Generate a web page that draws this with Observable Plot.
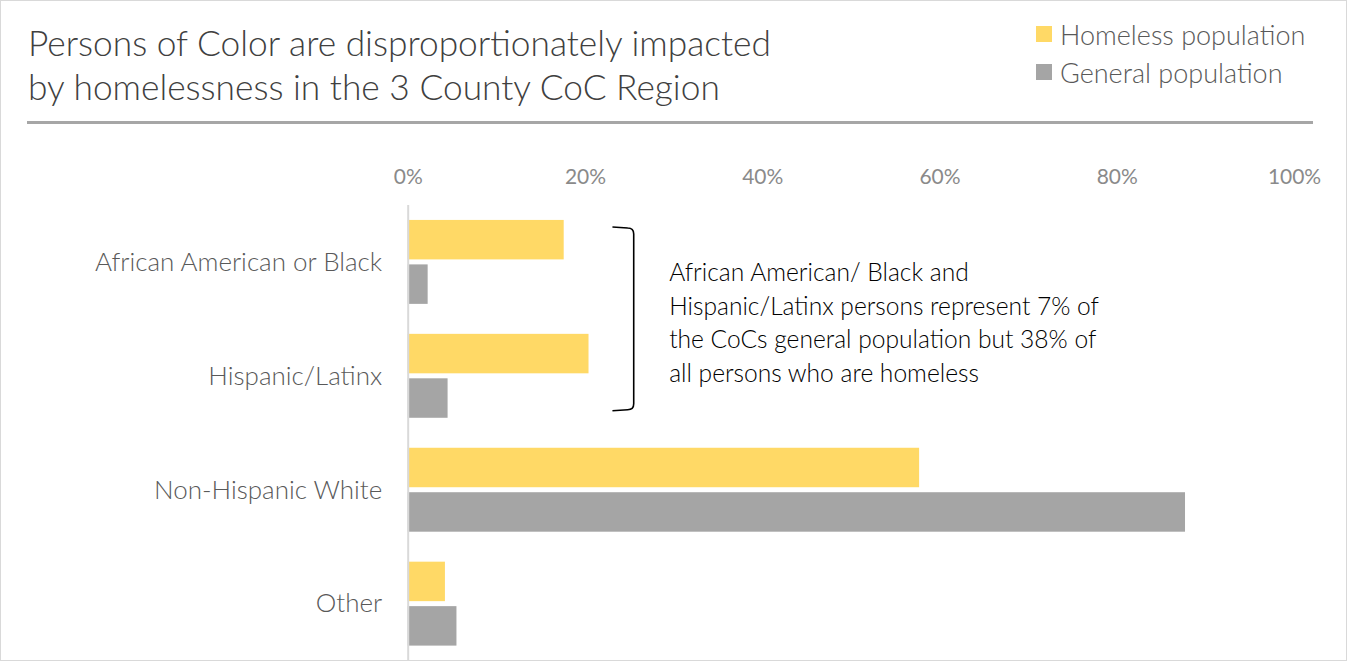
<!DOCTYPE html>
<html><head><meta charset="utf-8">
<script src="https://cdn.jsdelivr.net/npm/d3@7"></script>
<script src="https://cdn.jsdelivr.net/npm/@observablehq/plot@0.6"></script>
<style>
body{margin:0;background:#fff;}
#wrap{position:relative;width:1347px;height:661px;box-sizing:border-box;border:1px solid #d9d9d9;overflow:hidden;font-family:Lato, sans-serif;}
#title{position:absolute;left:27px;top:20px;font-size:35.3px;line-height:44px;color:#404040;font-weight:300;white-space:nowrap;}
#rule{position:absolute;left:26px;top:120px;width:1286px;height:3px;background:#a6a6a6;}
#legend{position:absolute;left:1035px;top:14px;font-size:27px;color:#595959;font-weight:300;}
.li{display:flex;align-items:center;height:38px;white-space:nowrap;}
.sw{width:16px;height:16px;margin-right:8px;}
#chart{position:absolute;left:-1px;top:128px;}
</style></head>
<body>
<div id="wrap">
  <div id="title">Persons of Color are disproportionately impacted<br>by homelessness in the 3 County CoC Region</div>
  <div id="legend"></div>
  <div id="rule"></div>
  <div id="chart"></div>
</div>
<script>
const categories = ["African American or Black", "Hispanic/Latinx", "Non-Hispanic White", "Other"];
const homeless = [0.176, 0.204, 0.577, 0.042];
const general = [0.0225, 0.045, 0.877, 0.055];
const xTicks = [0, 0.2, 0.4, 0.6, 0.8, 1];
const seriesNames = ["Homeless population", "General population"];
const seriesColors = ["#FFD966", "#A5A5A5"];
const noteLines = [
  "African American/ Black and",
  "Hispanic/Latinx persons represent 7% of",
  "the CoCs general population but 38% of",
  "all persons who are homeless"
];

const rows = categories.map((c, i) => ({category: c, homeless: homeless[i], general: general[i]}));

// legend
const legend = d3.select("#legend");
seriesNames.forEach((s, i) => {
  const li = legend.append("div").attr("class", "li");
  li.append("div").attr("class", "sw").style("background", seriesColors[i]);
  li.append("span").text(s);
});

const chart = Plot.plot({
  width: 1347,
  height: 533,
  marginTop: 76,
  marginBottom: 0,
  marginLeft: 408,
  marginRight: 52,
  style: {fontFamily: "Lato, sans-serif", background: "transparent", overflow: "visible"},
  x: {domain: [0, 1]},
  y: {domain: categories, paddingInner: 0.26, paddingOuter: 0.13},
  marks: [
    Plot.axisX(xTicks, {anchor: "top", tickSize: 0, tickPadding: 21, tickFormat: d3.format(".0%"), fontSize: 21, fill: "#8a8a8a", label: null}),
    Plot.axisY(categories, {anchor: "left", tickSize: 0, tickPadding: 26, fontSize: 26, fill: "#595959", fontWeight: 300, label: null}),
    Plot.barX(rows, {x: "homeless", y: "category", fill: seriesColors[0], insetBottom: 44.5}),
    Plot.barX(rows, {x: "general", y: "category", fill: seriesColors[1], insetTop: 44.5}),
    Plot.ruleX([0], {stroke: "#D9D9D9", strokeWidth: 2})
  ]
});
document.getElementById("chart").appendChild(chart);

// bracket + annotation, positioned through the plot's scales
const sx = chart.scale("x"), sy = chart.scale("y");
const bw = sy.bandwidth;
const yTop = sy.apply(categories[0]) + 7;
const yBot = sy.apply(categories[1]) + bw - 7;
const xr = sx.apply(0.255), xl = sx.apply(0.231);
const svg = d3.select(chart);
svg.append("path")
  .attr("d", `M${xl},${yTop} L${xr - 6},${yTop + 1} Q${xr},${yTop + 1} ${xr},${yTop + 7} L${xr},${yBot - 7} Q${xr},${yBot - 1} ${xr - 6},${yBot - 1} L${xl},${yBot}`)
  .attr("fill", "none").attr("stroke", "#000").attr("stroke-width", 1.6);
const cMid = (sy.apply(categories[0]) + sy.apply(categories[1]) + bw) / 2 + 4;
const tx = sx.apply(0.295);
svg.append("g").attr("text-anchor", "start").selectAll("text").data(noteLines).join("text")
  .attr("x", tx)
  .attr("y", (d, i) => cMid + (i - 1.5) * 33.5)
  .attr("dy", "0.35em")
  .attr("font-size", 24.6)
  .attr("font-weight", 300)
  .attr("fill", "#000")
  .text(d => d);
</script>
</body></html>
